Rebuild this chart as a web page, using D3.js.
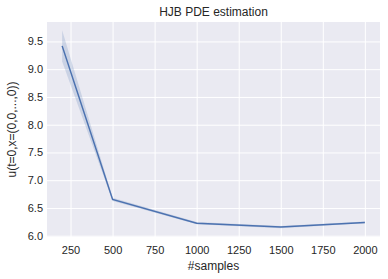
<!DOCTYPE html>
<html><head><meta charset="utf-8">
<script src="https://cdn.jsdelivr.net/npm/d3@7"></script>
<style>body{margin:0;background:#fff}svg{display:block}text{font-family:"Liberation Sans",Arial,sans-serif;fill:#262626}</style>
</head><body>
<script>
const samples = [200, 500, 1000, 1500, 2000];
const means = [9.42, 6.655, 6.225, 6.155, 6.24];
const lower = [9.14, 6.625, 6.205, 6.135, 6.225];
const upper = [9.70, 6.685, 6.245, 6.175, 6.255];
const xTicks = [250, 500, 750, 1000, 1250, 1500, 1750, 2000];
const yTicks = [6.0, 6.5, 7.0, 7.5, 8.0, 8.5, 9.0, 9.5];

const W = 388, H = 279;
const m = {l: 47, r: 8, t: 22, b: 42};
const svg = d3.select("body").append("svg").attr("width", W).attr("height", H);
const x = d3.scaleLinear().domain([110, 2090]).range([m.l, W - m.r]);
const y = d3.scaleLinear().domain([5.977, 9.85]).range([H - m.b, m.t]);

svg.append("rect").attr("x", m.l).attr("y", m.t).attr("width", W - m.r - m.l).attr("height", H - m.b - m.t).attr("fill", "#EAEAF2");

const gx = svg.append("g").attr("transform", `translate(0,${H - m.b})`)
  .call(d3.axisBottom(x).tickValues(xTicks).tickFormat(d3.format("d")).tickSize(-(H - m.b - m.t)).tickPadding(9));
const gy = svg.append("g").attr("transform", `translate(${m.l},0)`)
  .call(d3.axisLeft(y).tickValues(yTicks).tickFormat(d3.format(".1f")).tickSize(-(W - m.r - m.l)).tickPadding(4));
[gx, gy].forEach(g => {
  g.select(".domain").remove();
  g.selectAll(".tick line").attr("stroke", "#fff").attr("stroke-width", 1);
  g.selectAll(".tick text").attr("font-size", 11).attr("fill", "#262626");
});

const idx = d3.range(samples.length);
svg.append("path").datum(idx)
  .attr("d", d3.area().x(i => x(samples[i])).y0(i => y(lower[i])).y1(i => y(upper[i])))
  .attr("fill", "#4C72B0").attr("fill-opacity", 0.2);
svg.append("path").datum(idx)
  .attr("d", d3.line().x(i => x(samples[i])).y(i => y(means[i])))
  .attr("fill", "none").attr("stroke", "#4C72B0").attr("stroke-width", 1.5);

svg.append("text").attr("x", (m.l + W - m.r) / 2).attr("y", 16).attr("text-anchor", "middle").attr("font-size", 12).text("HJB PDE estimation");
svg.append("text").attr("x", (m.l + W - m.r) / 2).attr("y", 270).attr("text-anchor", "middle").attr("font-size", 12).text("#samples");
svg.append("text").attr("transform", `translate(16,${(m.t + H - m.b) / 2}) rotate(-90)`).attr("text-anchor", "middle").attr("font-size", 12).text("u(t=0,x=(0,0,...,0))");
</script>
</body></html>
